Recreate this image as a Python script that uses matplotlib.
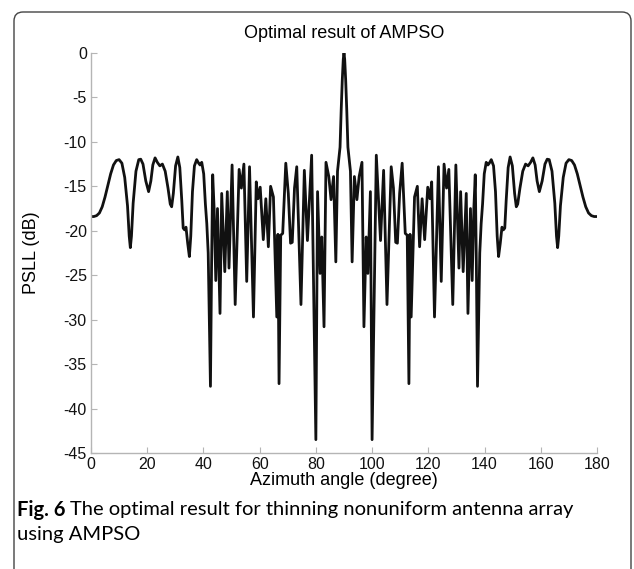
import matplotlib
matplotlib.use('Agg')
import matplotlib.pyplot as plt
import numpy as np
from matplotlib.patches import FancyBboxPatch
from matplotlib.transforms import IdentityTransform

plt.rcParams['font.family'] = ['Liberation Sans', 'DejaVu Sans']
plt.rcParams['axes.unicode_minus'] = False

# pattern, left half (0..90 deg)
angle_left = [0, 1, 2, 3, 4, 5, 6, 7, 8, 9, 10, 11, 12, 13, 13.6, 14.0, 14.4, 15.0, 16.0, 17.0,
              17.7, 18.5, 19.5, 20.5, 21.3, 22.0, 22.8, 23.6, 24.5, 25.4, 26.4, 27.4, 28.2, 28.7,
              29.3, 30.1, 30.9, 31.6, 32.3, 32.8, 33.3, 33.8, 34.4, 35.0, 35.5, 36.1, 36.8, 37.6,
              38.3, 38.8, 39.4, 40.1, 40.7, 41.2, 41.7, 42.5, 42.9, 43.3, 43.8, 44.4, 45.0, 45.9,
              46.5, 47.6, 48.5, 49.1, 50.2, 51.3, 52.7, 53.5, 54.4, 55.4, 56.4, 57.8, 58.8, 59.4,
              60.2, 61.3, 62.2, 63.1, 63.9, 64.9, 66.1, 66.5, 66.9, 67.5, 68.2, 69.3, 70.2, 71.0,
              71.6, 72.4, 73.2, 74.7, 75.9, 77.0, 78.5, 80.0, 80.6, 81.5, 82.1, 82.9, 83.6, 84.6,
              85.4, 86.3, 87.1, 87.7, 88.2, 88.6, 89.0, 89.4, 89.75, 90.0]
psll_left = [-18.4, -18.4, -18.3, -18.0, -17.3, -16.2, -14.9, -13.6, -12.6, -12.1, -12.0, -12.4,
             -14.0, -17.2, -20.6, -21.9, -20.6, -16.9, -13.3, -12.0, -11.95, -12.5, -14.4, -15.6,
             -14.4, -12.6, -11.8, -12.3, -12.7, -12.5, -13.3, -15.2, -17.0, -17.3, -15.8, -12.7,
             -11.7, -12.9, -16.6, -19.7, -19.9, -19.6, -21.4, -22.9, -20.6, -15.6, -12.7, -12.0,
             -12.4, -12.6, -12.3, -13.6, -17.0, -19.2, -22.5, -37.5, -24.0, -13.7, -17.5, -25.6,
             -17.5, -29.3, -15.8, -24.6, -15.6, -24.2, -12.6, -28.3, -13.1, -15.2, -12.5, -25.7,
             -12.8, -29.7, -14.5, -16.4, -15.1, -21.0, -16.4, -21.8, -15.0, -16.2, -29.7, -20.4,
             -37.2, -20.5, -20.3, -12.4, -15.8, -21.4, -21.3, -15.2, -12.8, -28.3, -13.2, -21.1,
             -11.5, -43.5, -15.6, -24.8, -20.7, -30.8, -12.3, -13.9, -16.5, -13.9, -23.5, -13.3,
             -11.8, -10.6, -6.5, -3.0, -0.7, 0.0]

# right half (90..180 deg)
angle_right = [90.25, 90.6, 91.0, 91.4, 91.8, 92.3, 92.9, 93.7, 94.6, 95.4, 96.4, 97.1, 97.9, 98.5,
               99.4, 100.0, 101.5, 103.0, 104.1, 105.3, 106.8, 107.6, 108.4, 109.0, 109.8, 110.7,
               111.8, 112.5, 113.1, 113.5, 113.9, 115.1, 116.1, 116.9, 117.8, 118.7, 119.8, 120.6,
               121.2, 122.2, 123.6, 124.6, 125.6, 126.5, 127.3, 128.7, 129.8, 130.9, 131.5, 132.4,
               133.5, 134.1, 135.0, 135.6, 136.2, 136.7, 137.1, 137.5, 138.3, 138.8, 139.3, 139.9,
               140.6, 141.2, 141.7, 142.4, 143.2, 143.9, 144.5, 145.0, 145.6, 146.2, 146.7, 147.2,
               147.7, 148.4, 149.1, 149.9, 150.7, 151.3, 151.8, 152.6, 153.6, 154.6, 155.5, 156.4,
               157.2, 158.0, 158.7, 159.5, 160.5, 161.5, 162.3, 163.0, 164.0, 165.0, 165.6, 166.0,
               166.4, 167.0, 168, 169, 170, 171, 172, 173, 174, 175, 176, 177, 178, 179, 180]
psll_right = [-0.7, -3.0, -6.5, -10.6, -11.8, -13.3, -23.5, -13.9, -16.5, -13.9, -12.3, -30.8,
              -20.7, -24.8, -15.6, -43.5, -11.5, -21.1, -13.2, -28.3, -12.8, -15.2, -21.3, -21.4,
              -15.8, -12.4, -20.3, -20.5, -37.2, -20.4, -29.7, -16.2, -15.0, -21.8, -16.4, -21.0,
              -15.1, -16.4, -14.5, -29.7, -12.8, -25.7, -12.5, -15.2, -13.1, -28.3, -12.6, -24.2,
              -15.6, -24.6, -15.8, -29.3, -17.5, -25.6, -17.5, -13.7, -24.0, -37.5, -22.5, -19.2,
              -17.0, -13.6, -12.3, -12.6, -12.4, -12.0, -12.7, -15.6, -20.6, -22.9, -21.4, -19.6,
              -19.9, -19.7, -16.6, -12.9, -11.7, -12.7, -15.8, -17.3, -17.0, -15.2, -13.3, -12.5,
              -12.7, -12.3, -11.8, -12.6, -14.4, -15.6, -14.4, -12.5, -11.95, -12.0, -13.3, -16.9,
              -20.6, -21.9, -20.6, -17.2, -14.0, -12.4, -12.0, -12.1, -12.6, -13.6, -14.9, -16.2,
              -17.3, -18.0, -18.3, -18.4, -18.4]

x_ticks = [0, 20, 40, 60, 80, 100, 120, 140, 160, 180]
y_ticks = [0, -5, -10, -15, -20, -25, -30, -35, -40, -45]

angle = np.array(angle_left + angle_right)
psll = np.array(psll_left + psll_right)

fig = plt.figure(figsize=(6.34, 5.69), dpi=100)
fig.patch.set_facecolor('white')
ax = fig.add_axes([0.1435, 0.2039, 0.7981, 0.703])

ax.plot(angle, psll, color='#111111', linewidth=2.0, solid_joinstyle='round')

ax.set_xlim(0, 180)
ax.set_ylim(-45, 0)
ax.set_xticks(x_ticks)
ax.set_yticks(y_ticks)
ax.set_yticklabels([str(v) for v in y_ticks])

for side in ['top', 'right']:
    ax.spines[side].set_visible(False)
for side in ['left', 'bottom']:
    ax.spines[side].set_color('#b5b5b5')
    ax.spines[side].set_linewidth(1.0)
ax.tick_params(direction='in', length=4, width=0.8, color='#b5b5b5',
               labelsize=11.5, labelcolor='#111111', pad=3)

ax.set_title('Optimal result of AMPSO', fontsize=13, pad=11)
ax.set_xlabel('Azimuth angle (degree)', fontsize=13, labelpad=0)
ax.set_ylabel('PSLL (dB)', fontsize=13)
ax.yaxis.set_label_coords(-0.1, 0.5)

# rounded frame around the figure block
frame = FancyBboxPatch((14, -30), 617, 557 + 30, boxstyle='round,pad=0,rounding_size=9',
                       transform=IdentityTransform(), facecolor='none',
                       edgecolor='#444444', linewidth=1.0)
fig.patches.append(frame)

# caption
cap_font = ['Lato', 'DejaVu Sans']
t1 = fig.text(0.027, 0.104, 'Fig. 6', fontsize=14.5, fontweight='bold', family=cap_font,
              va='center', ha='left')
fig.canvas.draw()
bb = t1.get_window_extent()
x_next = (bb.x1 + 4) / fig.bbox.width
fig.text(x_next, 0.104, 'The optimal result for thinning nonuniform antenna array',
         fontsize=14.5, family=cap_font, va='center', ha='left')
fig.text(0.027, 0.060, 'using AMPSO', fontsize=14.5, family=cap_font, va='center', ha='left')

fig.savefig('out.png', dpi=100)
